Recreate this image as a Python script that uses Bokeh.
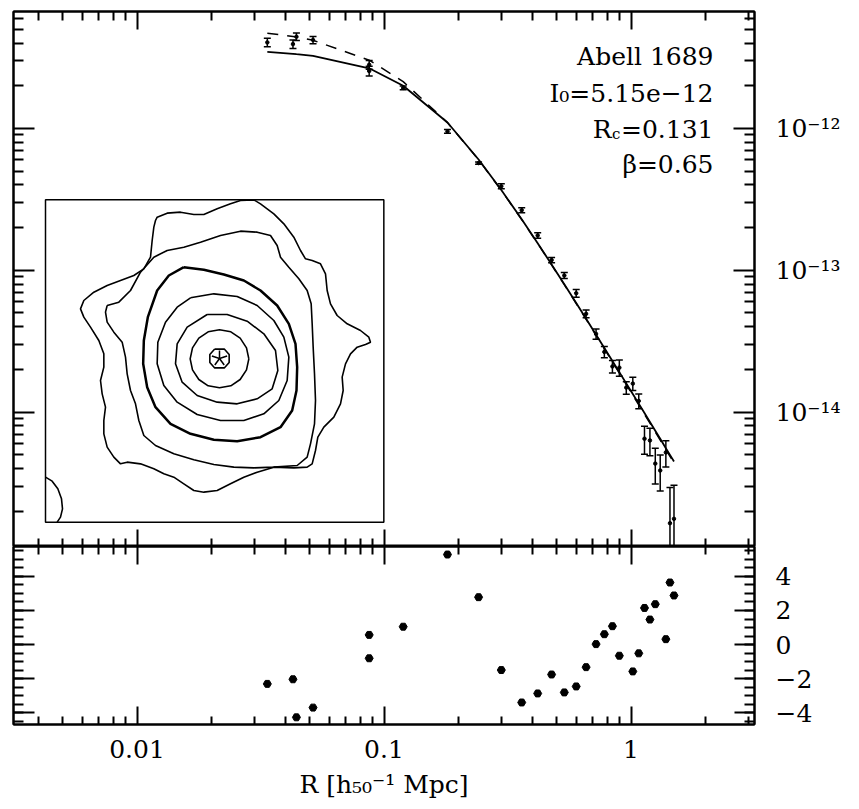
import numpy as np
from bokeh.plotting import figure
from bokeh.models import (Range1d, LinearScale, LogAxis, LinearAxis, FixedTicker,
                          CustomJSTickFormatter, Label)
from bokeh.layouts import column
from bokeh.embed import file_html
from bokeh.resources import INLINE

FONT = "DejaVu Serif"

# ---------------- data ----------------
R_mpc = [0.0337, 0.0428, 0.0442, 0.0516, 0.0871, 0.0871, 0.1196, 0.1807, 0.2415, 0.2985,
         0.361, 0.419, 0.477, 0.537, 0.600, 0.658, 0.722, 0.780, 0.841, 0.897,
         0.957, 1.017, 1.075, 1.134, 1.193, 1.254, 1.313, 1.384, 1.438, 1.493]
SB = [4.04e-12, 3.93e-12, 4.43e-12, 4.20e-12, 2.81e-12, 2.54e-12, 1.93e-12, 9.53e-13, 5.70e-13, 3.91e-13,
      2.65e-13, 1.76e-13, 1.18e-13, 9.19e-14, 6.89e-14, 4.93e-14, 3.56e-14, 2.66e-14, 2.10e-14, 2.06e-14,
      1.49e-14, 1.59e-14, 1.20e-14, 6.50e-15, 6.32e-15, 4.34e-15, 3.88e-15, 5.20e-15, 1.65e-15, 1.77e-15]
SB_err = [2.8e-13, 2.7e-13, 2.7e-13, 2.5e-13, 2.0e-13, 2.0e-13, 6.0e-14, 2.8e-14, 1.1e-14, 1.6e-14,
          1.1e-14, 8.0e-15, 5.0e-15, 4.5e-15, 4.3e-15, 3.1e-15, 3.0e-15, 2.4e-15, 2.1e-15, 2.7e-15,
          1.5e-15, 1.7e-15, 1.45e-15, 1.45e-15, 1.39e-15, 1.22e-15, 1.1e-15, 1.1e-15, 1.29e-15, 1.28e-15]
model_conv_log = [-11.460, -11.474, -11.477, -11.488, -11.576, -11.576, -11.699, -11.958, -12.219, -12.434,
                  -12.641, -12.809, -12.959, -13.099, -13.231, -13.342, -13.454, -13.548, -13.640, -13.718,
                  -13.798, -13.872, -13.940, -14.006, -14.069, -14.131, -14.188, -14.254, -14.301, -14.348]
model_beta_log = [-11.329, -11.352, -11.356, -11.379, -11.519, -11.519, -11.670, -11.959, -12.221, -12.436,
                  -12.643, -12.811, -12.962, -13.101, -13.234, -13.345, -13.458, -13.553, -13.645, -13.725,
                  -13.805, -13.880, -13.949, -14.015, -14.078, -14.140, -14.197, -14.263, -14.311, -14.358]

resid_R = [0.0337, 0.0428, 0.0442, 0.0516, 0.0871, 0.0871, 0.1196, 0.1807, 0.2415, 0.2985,
           0.361, 0.419, 0.477, 0.537, 0.600, 0.658, 0.722, 0.780, 0.841, 0.897,
           1.017, 1.075, 1.134, 1.193, 1.254, 1.384, 1.438, 1.493]
resid = [-2.30, -2.03, -4.26, -3.69, 0.57, -0.80, 1.05, 5.28, 2.78, -1.49,
         -3.39, -2.86, -1.75, -2.80, -2.45, -1.32, 0.03, 0.61, 1.08, -0.65,
         -1.57, -0.51, 2.15, 1.47, 2.37, 0.32, 3.64, 2.88]

x_ticks = [0.01, 0.1, 1.0]
y_ticks = [1e-14, 1e-13, 1e-12]
res_ticks = [-4, -2, 0, 2, 4]

# X-ray image contours (image pixel coords, rows downward)
cont_outer = [(345, 90), (350, 80), (380, 68), (420, 65), (460, 72), (490, 72), (530, 55), (570, 40),
              (600, 30), (640, 28), (660, 40), (700, 70), (730, 100), (760, 140), (780, 180), (795, 205),
              (815, 210), (840, 220), (855, 250), (860, 300), (870, 340), (890, 375), (920, 400),
              (960, 420), (985, 440), (990, 455), (975, 462), (950, 470), (930, 490), (915, 520),
              (905, 560), (908, 600), (900, 640), (880, 680), (850, 710), (832, 740), (825, 780),
              (815, 820), (800, 830), (760, 832), (700, 830), (650, 845), (610, 860), (570, 880),
              (530, 900), (490, 905), (460, 900), (430, 880), (400, 860), (370, 850), (340, 835),
              (300, 820), (260, 815), (240, 820), (220, 800), (200, 770), (190, 730), (190, 690),
              (195, 650), (185, 610), (180, 570), (190, 530), (190, 490), (175, 450), (150, 410),
              (130, 380), (120, 355), (130, 330), (160, 305), (200, 285), (240, 270), (280, 255),
              (310, 235), (330, 200), (335, 150), (340, 110), (345, 90)]
cont_2 = [(200, 345), (235, 335), (270, 300), (300, 245), (340, 200), (380, 180), (430, 170), (480, 155),
          (540, 135), (600, 122), (650, 125), (690, 135), (710, 165), (720, 200), (745, 230), (775, 265),
          (800, 300), (812, 340), (815, 400), (818, 470), (822, 550), (825, 630), (822, 700), (810, 760),
          (800, 800), (770, 825), (700, 830), (640, 832), (580, 830), (520, 822), (460, 808), (400, 790),
          (345, 765), (310, 735), (295, 690), (285, 640), (270, 600), (260, 550), (255, 500), (245, 455),
          (220, 425), (200, 395), (195, 365), (200, 345)]
cont_bold = [(430, 230), (490, 238), (550, 252), (610, 270), (660, 300), (710, 345), (745, 400), (765, 460),
             (770, 530), (768, 600), (755, 660), (720, 710), (660, 740), (590, 752), (520, 748), (450, 730),
             (390, 700), (345, 650), (320, 590), (308, 520), (310, 450), (322, 380), (350, 300), (385, 255),
             (430, 230)]
cont_4 = [(450, 322), (520, 310), (590, 318), (650, 345), (700, 390), (730, 440), (745, 500), (740, 570),
          (715, 630), (670, 670), (610, 690), (540, 690), (470, 672), (410, 635), (370, 585), (350, 520),
          (352, 455), (375, 395), (410, 350), (450, 322)]
cont_5 = [(500, 372), (560, 372), (620, 392), (670, 430), (705, 480), (712, 540), (695, 595), (650, 625),
          (590, 640), (530, 635), (470, 615), (425, 575), (405, 520), (410, 460), (440, 410), (500, 372)]
cont_6 = [(625, 505), (618, 472), (599, 443), (571, 424), (537, 418), (503, 424), (475, 443), (456, 472),
          (449, 505), (456, 538), (475, 567), (503, 586), (537, 592), (571, 586), (599, 567), (618, 538),
          (625, 505)]
cont_7 = [(522, 476), (552, 476), (566, 492), (566, 516), (552, 532), (522, 532), (508, 516), (508, 492),
          (522, 476)]
cont_corner = [(15, 860), (35, 872), (52, 895), (63, 925), (66, 955), (60, 980), (50, 995)]
peak_xy = (537, 504)
img_box = (15, 1030, 28, 995)   # left, right, top, bottom in image pixels

# ---------------- helpers ----------------
def style_axis(ax, major, minor, ticker, labels=False, formatter=None, standoff=0):
    ax.ticker = ticker
    ax.major_tick_in = major
    ax.major_tick_out = 0
    ax.minor_tick_in = minor
    ax.minor_tick_out = 0
    ax.major_tick_line_width = 2
    ax.minor_tick_line_width = 2
    ax.major_tick_line_color = "black"
    ax.minor_tick_line_color = "black"
    ax.axis_line_width = 2
    ax.axis_line_color = "black"
    ax.axis_label = None
    if labels:
        ax.formatter = formatter
        ax.major_label_text_font = FONT
        ax.major_label_text_font_size = "25px"
        ax.major_label_text_color = "black"
        ax.major_label_standoff = standoff
    else:
        ax.formatter = CustomJSTickFormatter(code="return ''")
        ax.major_label_text_font_size = "0px"
        ax.major_label_standoff = 0


def add_text(fig, x, y, text, dx, dy, size, align="right"):
    fig.add_layout(Label(x=x, y=y, x_offset=dx, y_offset=dy, text=text, text_font=FONT,
                         text_font_size=f"{size}px", text_align=align,
                         text_baseline="alphabetic", text_color="black"))


x_minor = [k * 10.0 ** e for e in (-3, -2, -1, 0) for k in range(2, 10)]
y_minor = [k * 10.0 ** e for e in (-15, -14, -13, -12) for k in range(2, 10)]
res_minor = list(np.arange(-4.5, 6.0, 0.5))

XMIN, XMAX = 10 ** -2.5, 10 ** 0.5
YMIN, YMAX = 1.13e-15, 6.67e-12
RMIN, RMAX = -4.68, 5.75

xr = Range1d(XMIN, XMAX)

# ---------------- top panel ----------------
p = figure(width=859, height=546, x_axis_type="log", y_axis_type="log",
           x_range=xr, y_range=Range1d(YMIN, YMAX), y_axis_location="right",
           output_backend="svg", toolbar_location=None,
           min_border_left=13, min_border_right=105, min_border_top=11, min_border_bottom=0)
p.grid.visible = False
p.outline_line_color = "black"
p.outline_line_width = 2
p.background_fill_color = "white"
p.border_fill_color = "white"

sup_js = """
const m = {'-':'\u207b','0':'\u2070','1':'\u00b9','2':'\u00b2','3':'\u00b3','4':'\u2074',
           '5':'\u2075','6':'\u2076','7':'\u2077','8':'\u2078','9':'\u2079'};
const e = String(Math.round(Math.log10(tick)));
return '10' + e.split('').map(c => m[c]).join('');
"""
style_axis(p.below[0], 17, 8, FixedTicker(ticks=x_ticks, minor_ticks=x_minor))
style_axis(p.right[0], 21, 10, FixedTicker(ticks=y_ticks, minor_ticks=y_minor),
           labels=True, formatter=CustomJSTickFormatter(code=sup_js), standoff=21)
ax_top = LogAxis()
style_axis(ax_top, 18, 9, FixedTicker(ticks=x_ticks, minor_ticks=x_minor))
p.add_layout(ax_top, "above")
ax_left = LogAxis()
style_axis(ax_left, 21, 10, FixedTicker(ticks=y_ticks, minor_ticks=y_minor))
p.add_layout(ax_left, "left")

R = np.array(R_mpc)
S = np.array(SB)
E = np.array(SB_err)
p.line(R, 10.0 ** np.array(model_beta_log), line_color="black", line_width=1.5, line_dash="11 9")
p.line(R, 10.0 ** np.array(model_conv_log), line_color="black", line_width=1.8)
p.segment(x0=R, y0=S - E, x1=R, y1=S + E, line_color="black", line_width=1.5)
p.scatter(R, S + E, marker="dash", size=7, line_color="black", line_width=1.5)
p.scatter(R, S - E, marker="dash", size=7, line_color="black", line_width=1.5)
p.scatter(R, S, marker="circle", size=3.5, color="black")

# inset X-ray contour image
p.extra_x_ranges = {"img": Range1d(-81, 2142)}
p.extra_y_ranges = {"img": Range1d(1068, -537)}
p.extra_x_scales = {"img": LinearScale()}
p.extra_y_scales = {"img": LinearScale()}
L, Rt, T, B = img_box
p.quad(left=[L], right=[Rt], top=[T], bottom=[B], fill_color="white", line_color="black",
       line_width=1.5, x_range_name="img", y_range_name="img")
thin = [cont_outer, cont_2, cont_4, cont_5, cont_6, cont_7, cont_corner]
p.multi_line(xs=[[q[0] for q in c] for c in thin], ys=[[q[1] for q in c] for c in thin],
             line_color="black", line_width=1.6, x_range_name="img", y_range_name="img")
p.line([q[0] for q in cont_bold], [q[1] for q in cont_bold], line_color="black", line_width=2.5,
       x_range_name="img", y_range_name="img")
ang = np.deg2rad(90 + 72 * np.arange(5))
cx, cy = peak_xy
p.segment(x0=np.full(5, cx), y0=np.full(5, cy), x1=cx + 24 * np.cos(ang), y1=cy - 24 * np.sin(ang),
          line_color="black", line_width=1.5, x_range_name="img", y_range_name="img")

# annotation text block
add_text(p, XMAX, YMAX, "Abell 1689", -41, -45, 25)
add_text(p, XMAX, YMAX, "I\u2080=5.15e\u221212", -41, -82, 25)
add_text(p, XMAX, YMAX, "=0.131", -41, -118, 25)
add_text(p, XMAX, YMAX, "c", -134, -122, 15)
add_text(p, XMAX, YMAX, "R", -143, -118, 25)
add_text(p, XMAX, YMAX, "\u03b2=0.65", -41, -153, 25)

# ---------------- residual panel ----------------
b = figure(width=859, height=263, x_axis_type="log", x_range=xr, y_range=Range1d(RMIN, RMAX),
           y_axis_location="right", output_backend="svg", toolbar_location=None,
           min_border_left=13, min_border_right=105, min_border_top=0, min_border_bottom=85)
b.grid.visible = False
b.outline_line_color = "black"
b.outline_line_width = 2
b.background_fill_color = "white"
b.border_fill_color = "white"

style_axis(b.below[0], 18, 8, FixedTicker(ticks=x_ticks, minor_ticks=x_minor),
           labels=True, formatter=CustomJSTickFormatter(code="return String(tick)"), standoff=15)
style_axis(b.right[0], 20, 10, FixedTicker(ticks=res_ticks, minor_ticks=res_minor),
           labels=True,
           formatter=CustomJSTickFormatter(code="return tick < 0 ? '\u2212' + Math.abs(tick) : String(tick)"),
           standoff=21)
xb = b.below[0]
xb.axis_label = "R [h\u2085\u2080\u207b\u00b9 Mpc]"
xb.axis_label_text_font = FONT
xb.axis_label_text_font_size = "25px"
xb.axis_label_text_font_style = "normal"
xb.axis_label_text_color = "black"
xb.axis_label_standoff = 9
bx_top = LogAxis()
style_axis(bx_top, 18, 8, FixedTicker(ticks=x_ticks, minor_ticks=x_minor))
b.add_layout(bx_top, "above")
bx_left = LinearAxis()
style_axis(bx_left, 21, 10, FixedTicker(ticks=res_ticks, minor_ticks=res_minor))
b.add_layout(bx_left, "left")

b.scatter(resid_R, resid, marker="hex", size=8, color="black")

layout = column(p, b, spacing=0)
open("out.html", "w").write(file_html(layout, INLINE))
